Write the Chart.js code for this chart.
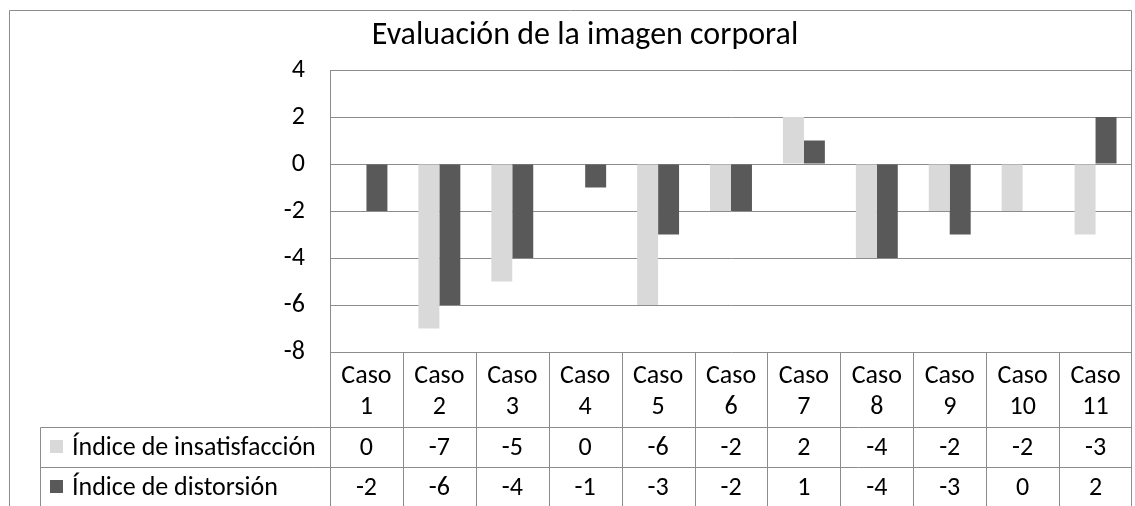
<!DOCTYPE html>
<html lang="es">
<head>
<meta charset="utf-8">
<title>Evaluación de la imagen corporal</title>
<script src="https://cdn.jsdelivr.net/npm/chart.js@4/dist/chart.umd.min.js"></script>
<style>
    html, body { margin: 0; padding: 0; background: #fff; }
    canvas { display: block; }
</style>
</head>
<body>
<canvas id="barChart" width="1135" height="506"></canvas>
<script>
const title = 'Evaluación de la imagen corporal';
const casos = ['Caso 1', 'Caso 2', 'Caso 3', 'Caso 4', 'Caso 5', 'Caso 6', 'Caso 7', 'Caso 8', 'Caso 9', 'Caso 10', 'Caso 11'];
const seriesNames = ['Índice de insatisfacción', 'Índice de distorsión'];
const insatisfaccion = [0, -7, -5, 0, -6, -2, 2, -4, -2, -2, -3];
const distorsion = [-2, -6, -4, -1, -3, -2, 1, -4, -3, 0, 2];
const yMin = -8;
const yMax = 4;
const yStep = 2;

const FONT = "'Carlito', 'Lato', 'Open Sans', sans-serif";
const LINE = '#8c8c8c';
const LIGHT = '#d9d9d9';
const DARK = '#595959';

/**
 * Draws the frame, title and the data table under the plot
 */
const tablePlugin = {
    id: 'dataTable',
    afterDraw(chart) {
        const ctx = chart.ctx;
        const area = chart.chartArea;
        const x = chart.scales.x;
        const colW = area.width / casos.length;
        const legendLeft = 40.5;
        const rows = [area.bottom, 427.5, 467.5, chart.height];
        const left = Math.round(area.left) + 0.5;
        const right = Math.round(area.right) - 0.5;

        ctx.save();
        ctx.strokeStyle = LINE;
        ctx.lineWidth = 1;

        // outer frame
        ctx.beginPath();
        ctx.moveTo(9.5, chart.height);
        ctx.lineTo(9.5, 10.5);
        ctx.lineTo(1131.5, 10.5);
        ctx.lineTo(1131.5, chart.height);
        ctx.stroke();

        // plot right border + table lines
        ctx.beginPath();
        ctx.moveTo(right, area.top);
        ctx.lineTo(right, chart.height);
        ctx.moveTo(left, area.top);
        ctx.lineTo(left, chart.height);
        for (let i = 1; i < casos.length; i++) {
            const cx = Math.round(area.left + i * colW) + 0.5;
            ctx.moveTo(cx, rows[0]);
            ctx.lineTo(cx, chart.height);
        }
        ctx.moveTo(legendLeft, rows[1]);
        ctx.lineTo(right, rows[1]);
        ctx.moveTo(legendLeft, rows[2]);
        ctx.lineTo(right, rows[2]);
        ctx.moveTo(legendLeft, rows[1]);
        ctx.lineTo(legendLeft, chart.height);
        ctx.stroke();

        // title
        ctx.fillStyle = '#000';
        ctx.textAlign = 'center';
        ctx.textBaseline = 'middle';
        ctx.font = `32px ${FONT}`;
        ctx.fillText(title, 585, 36);

        // header cells
        ctx.font = `26px ${FONT}`;
        casos.forEach((c, i) => {
            const cx = x.getPixelForValue(i);
            const parts = c.split(' ');
            ctx.fillText(parts[0], cx, 376);
            ctx.fillText(parts[1], cx, 407);
            ctx.fillText(String(insatisfaccion[i]), cx, 448);
            ctx.fillText(String(distorsion[i]), cx, 488);
        });

        // legend cells
        ctx.textAlign = 'left';
        [LIGHT, DARK].forEach((col, r) => {
            const cy = r === 0 ? 447 : 487;
            ctx.fillStyle = col;
            ctx.fillRect(50, cy - 7, 13, 13);
            ctx.fillStyle = '#000';
            ctx.fillText(seriesNames[r], 72, cy + 1);
        });
        ctx.restore();
    }
};

function initializeChart() {
    const ctx = document.getElementById('barChart').getContext('2d');
    return new Chart(ctx, {
        type: 'bar',
        data: {
            labels: casos,
            datasets: [
                {
                    label: seriesNames[0],
                    data: insatisfaccion,
                    backgroundColor: LIGHT,
                    borderWidth: 0
                },
                {
                    label: seriesNames[1],
                    data: distorsion,
                    backgroundColor: DARK,
                    borderWidth: 0
                }
            ]
        },
        options: {
            responsive: false,
            animation: false,
            categoryPercentage: 0.575,
            barPercentage: 1,
            layout: {
                padding: { left: 0, top: 70, right: 3, bottom: 154 }
            },
            plugins: {
                legend: { display: false },
                title: { display: false },
                tooltip: { enabled: false }
            },
            scales: {
                x: {
                    display: false
                },
                y: {
                    min: yMin,
                    max: yMax,
                    ticks: {
                        stepSize: yStep,
                        color: '#000',
                        padding: 25,
                        font: { family: FONT, size: 26 }
                    },
                    grid: {
                        color: LINE,
                        drawTicks: false
                    },
                    border: {
                        display: true,
                        color: LINE
                    },
                    afterFit(scale) {
                        scale.width = 330;
                    }
                }
            }
        },
        plugins: [tablePlugin]
    });
}

document.addEventListener('DOMContentLoaded', () => {
    initializeChart();
});
</script>
</body>
</html>
